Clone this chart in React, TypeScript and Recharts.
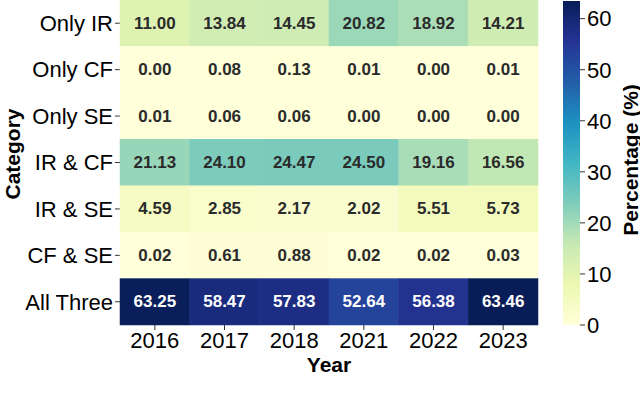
import React from "react";
import { ScatterChart, Scatter, XAxis, YAxis, BarChart, Bar } from "recharts";

const years = ["2016", "2017", "2018", "2021", "2022", "2023"];
const categories = ["Only IR", "Only CF", "Only SE", "IR & CF", "IR & SE", "CF & SE", "All Three"];

const onlyIR = [11.0, 13.84, 14.45, 20.82, 18.92, 14.21];
const onlyCF = [0.0, 0.08, 0.13, 0.01, 0.0, 0.01];
const onlySE = [0.01, 0.06, 0.06, 0.0, 0.0, 0.0];
const irCF = [21.13, 24.1, 24.47, 24.5, 19.16, 16.56];
const irSE = [4.59, 2.85, 2.17, 2.02, 5.51, 5.73];
const cfSE = [0.02, 0.61, 0.88, 0.02, 0.02, 0.03];
const allThree = [63.25, 58.47, 57.83, 52.64, 56.38, 63.46];

const rows = [onlyIR, onlyCF, onlySE, irCF, irSE, cfSE, allThree];
const colorbarTicks = [0, 10, 20, 30, 40, 50, 60];

// YlGnBu stops (colorbrewer 9 class)
const YLGNBU = ["#ffffd9", "#edf8b1", "#c7e9b4", "#7fcdbb", "#41b6c4", "#1d91c0", "#225ea8", "#253494", "#081d58"];

const FONT = '"Liberation Sans", Arial, sans-serif';

const cells = rows.flatMap((vals, i) =>
  vals.map((v, j) => ({ cat: categories[i], year: years[j], value: v }))
);
const vmax = Math.max(...cells.map((c) => c.value));

function hexToRgb(h: string) {
  const n = parseInt(h.slice(1), 16);
  return [(n >> 16) & 255, (n >> 8) & 255, n & 255];
}

function colorFor(v: number) {
  const t = Math.max(0, Math.min(1, v / vmax)) * (YLGNBU.length - 1);
  const i = Math.min(Math.floor(t), YLGNBU.length - 2);
  const f = t - i;
  const a = hexToRgb(YLGNBU[i]);
  const b = hexToRgb(YLGNBU[i + 1]);
  const c = a.map((x, k) => Math.round(x + (b[k] - x) * f));
  return `rgb(${c[0]},${c[1]},${c[2]})`;
}

// plot area of the heatmap
const W = 560, H = 405;
const PLOT_LEFT = 120, PLOT_RIGHT = 538, PLOT_BOTTOM = 325;
const cellW = (PLOT_RIGHT - PLOT_LEFT) / years.length;
const cellH = PLOT_BOTTOM / categories.length;

const HeatCell = (props: any) => {
  const { cx, cy, payload } = props;
  const dark = payload.value > 40;
  return (
    <g>
      <rect
        x={cx - cellW / 2 - 0.25}
        y={cy - cellH / 2 - 0.25}
        width={cellW + 0.5}
        height={cellH + 0.5}
        fill={colorFor(payload.value)}
      />
      <text
        x={cx}
        y={cy}
        textAnchor="middle"
        dominantBaseline="central"
        fontFamily={FONT}
        fontWeight="bold"
        fontSize={17}
        fill={dark ? "#ffffff" : "#2b2b2b"}
      >
        {payload.value.toFixed(2)}
      </text>
    </g>
  );
};

const tickStyle = { fill: "#000", fontSize: 22, fontFamily: FONT };

export default function App() {
  return (
    <div style={{ position: "absolute", left: 0, top: 0, width: 640, height: 405, background: "#fff" }}>
      <div style={{ position: "absolute", left: 0, top: 0 }}>
        <ScatterChart width={W} height={H} margin={{ top: 0, right: W - PLOT_RIGHT, bottom: 0, left: 0 }}>
          <XAxis
            dataKey="year"
            type="category"
            allowDuplicatedCategory={false}
            height={H - PLOT_BOTTOM}
            axisLine={false}
            tickSize={5}
            tickLine={{ stroke: "#333" }}
            tick={tickStyle}
            interval={0}
            label={{
              content: ({ viewBox }: any) => (
                <text
                  x={viewBox.x + viewBox.width / 2}
                  y={viewBox.y + 47}
                  textAnchor="middle"
                  fontFamily={FONT}
                  fontWeight="bold"
                  fontSize={21}
                  fill="#000"
                >
                  Year
                </text>
              ),
            }}
          />
          <YAxis
            dataKey="cat"
            type="category"
            allowDuplicatedCategory={false}
            reversed
            width={PLOT_LEFT}
            axisLine={false}
            tickSize={5}
            tickLine={{ stroke: "#333" }}
            tick={tickStyle}
            interval={0}
            label={{
              content: () => (
                <text
                  x={12}
                  y={154}
                  transform="rotate(-90, 12, 154)"
                  textAnchor="middle"
                  dominantBaseline="central"
                  fontFamily={FONT}
                  fontWeight="bold"
                  fontSize={21}
                  fill="#000"
                >
                  Category
                </text>
              ),
            }}
          />
          <Scatter data={cells} shape={<HeatCell />} isAnimationActive={false} />
        </ScatterChart>
      </div>
      <div style={{ position: "absolute", left: 540, top: 0 }}>
        <BarChart
          width={100}
          height={H}
          data={[{ name: "cb", v: vmax }]}
          margin={{ top: 1, right: 0, bottom: H - PLOT_BOTTOM, left: 23 }}
          barCategoryGap={0}
        >
          <defs>
            <linearGradient id="ylgnbu" x1="0" y1="1" x2="0" y2="0">
              {YLGNBU.map((c, i) => (
                <stop key={c} offset={`${(i / (YLGNBU.length - 1)) * 100}%`} stopColor={c} />
              ))}
            </linearGradient>
          </defs>
          <XAxis dataKey="name" hide />
          <YAxis
            orientation="right"
            width={60}
            domain={[0, vmax]}
            ticks={colorbarTicks}
            axisLine={false}
            tickSize={5}
            tickLine={{ stroke: "#333" }}
            tick={tickStyle}
            label={{
              content: () => (
                <text
                  x={90}
                  y={160}
                  transform="rotate(-90, 90, 160)"
                  textAnchor="middle"
                  dominantBaseline="central"
                  fontFamily={FONT}
                  fontWeight="bold"
                  fontSize={21}
                  fill="#000"
                >
                  Percentage (%)
                </text>
              ),
            }}
          />
          <Bar dataKey="v" fill="url(#ylgnbu)" isAnimationActive={false} />
        </BarChart>
      </div>
    </div>
  );
}
